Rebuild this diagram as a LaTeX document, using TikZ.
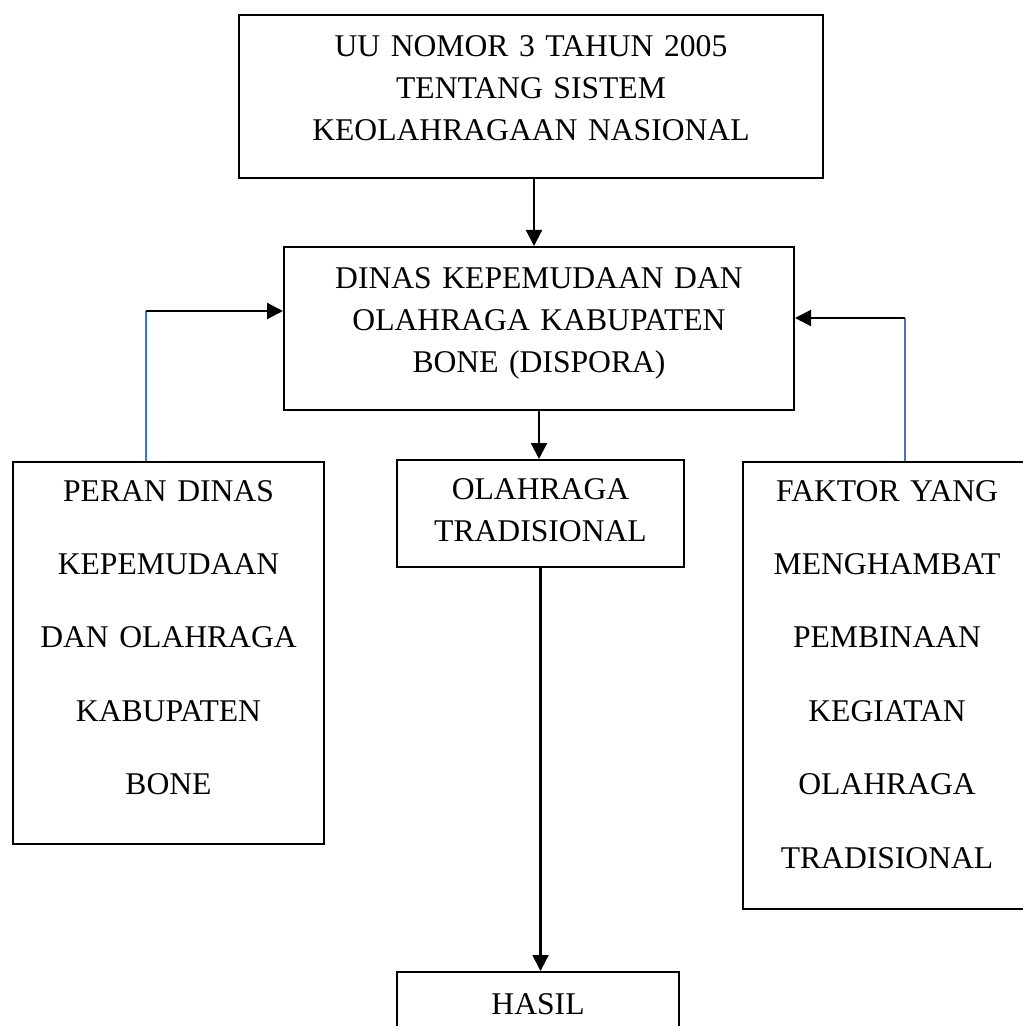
\documentclass[tikz,border=0pt]{standalone}
\usepackage{fontspec}
\setmainfont{Liberation Serif}
\usetikzlibrary{arrows.meta}
\definecolor{myblue}{RGB}{68,114,196}

\tikzset{
  box/.style={draw=black, line width=1.2pt, anchor=north west, inner sep=0pt, align=center,
    font=\fontsize{18}{24}\selectfont},
  tallbox/.style={box, font=\fontsize{18}{41.8}\selectfont},
  arr/.style={line width=1.2pt, -{Triangle[length=0.32cm,width=0.32cm]}},
  feed/.style={draw=myblue, line width=0.8pt}
}

\begin{document}
\begin{tikzpicture}[x=0.02cm, y=-0.02cm]
  \useasboundingbox (0,0) rectangle (1022,1026);

%boxes:
  \node[box, text width=11.68cm, text height=0.82cm, text depth=2.44cm] (uu) at (238,14)
    {UU NOMOR 3 TAHUN 2005\\TENTANG SISTEM\\KEOLAHRAGAAN NASIONAL};
  \node[box, text width=10.2cm, text height=0.82cm, text depth=2.44cm] (dispora) at (283,246)
    {DINAS KEPEMUDAAN DAN\\OLAHRAGA KABUPATEN\\BONE (DISPORA)};
  \node[box, text width=5.74cm, text height=0.78cm, text depth=1.36cm] (tradisional) at (396,459)
    {OLAHRAGA\\TRADISIONAL};
  \node[tallbox, text width=6.22cm, text height=0.78cm, text depth=6.86cm] (peran) at (12,461)
    {PERAN DINAS\\KEPEMUDAAN\\DAN OLAHRAGA\\KABUPATEN\\BONE};
  \node[tallbox, text width=5.76cm, text height=0.78cm, text depth=8.16cm] (faktor) at (742,461)
    {FAKTOR YANG\\MENGHAMBAT\\PEMBINAAN\\KEGIATAN\\OLAHRAGA\\TRADISIONAL};
  \node[box, text width=5.64cm, text height=0.84cm, text depth=1.0cm] (hasil) at (396,971)
    {HASIL};

%connectors:
  \coordinate (down) at (534,0);
  \coordinate (lbend) at (146,311);
  \coordinate (rbend) at (905,318);

  \draw[arr] (uu.south -| down) -- (dispora.north -| down);
  \draw[arr] (dispora.south) -- (tradisional.north -| dispora.south);
  \draw[arr] (tradisional.south) -- (hasil.north -| tradisional.south);

  \draw[feed] (peran.north -| lbend) -- (lbend);
  \draw[arr] (lbend) -- (dispora.west |- lbend);
  \draw[feed] (faktor.north -| rbend) -- (rbend);
  \draw[arr] (rbend) -- (dispora.east |- rbend);
\end{tikzpicture}
\end{document}
